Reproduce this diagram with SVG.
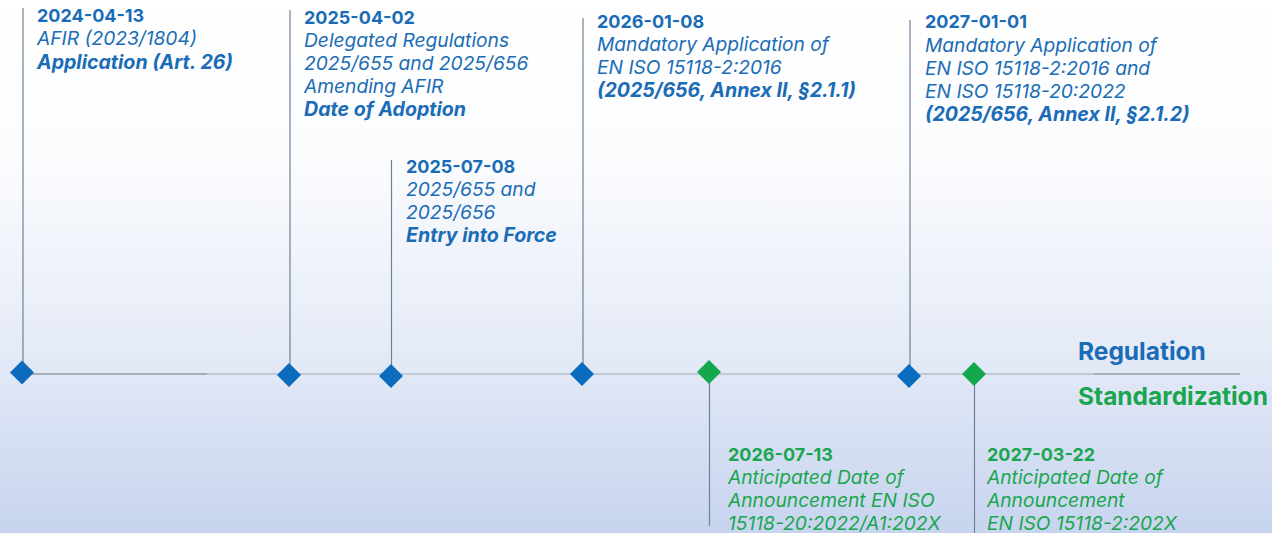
<svg xmlns="http://www.w3.org/2000/svg" width="1272" height="533" viewBox="0 0 1272 533">
<defs>
<linearGradient id="bg" x1="0" y1="0" x2="0" y2="1">
<stop offset="0" stop-color="#ffffff"/>
<stop offset="0.3" stop-color="#fbfcfe"/>
<stop offset="0.65" stop-color="#e5ebf7"/>
<stop offset="1" stop-color="#c7d4ef"/>
</linearGradient>
<path id="dm" d="M0,-12 L12,0 L0,12 L-12,0 Z"/>
</defs>
<style>
text{font-family:Inter,"Liberation Sans",sans-serif;font-size:18px}
.d{font-weight:bold}
.i{font-style:italic;font-size:19.2px}
.bi{font-style:italic;font-weight:bold;font-size:19.6px}
.blue{fill:#1a6cb6}
.green{fill:#1aa64e}
.stem{stroke:#6f8197;stroke-width:1.2;fill:none}
.bd{fill:#0b6bbd}
.gd{fill:#13a84b}
.lane{font-weight:bold;font-size:24.5px}
</style>
<rect width="1272" height="533" fill="url(#bg)"/>
<g id="connectors">
<line x1="22" y1="374" x2="1240" y2="374" stroke="#c2c8d3" stroke-width="2"/>
<line x1="22" y1="374" x2="207" y2="374" stroke="#a8acb4" stroke-width="2"/>
<line x1="1094" y1="374" x2="1240" y2="374" stroke="#a8acb4" stroke-width="2"/>
<line class="stem" x1="23" y1="8" x2="23" y2="372"/>
<line class="stem" x1="290" y1="10" x2="290" y2="375"/>
<line class="stem" x1="391.5" y1="160" x2="391.5" y2="376"/>
<line class="stem" x1="583" y1="18" x2="583" y2="374"/>
<line class="stem" x1="910" y1="20" x2="910" y2="376"/>
<line class="stem" x1="709.5" y1="372" x2="709.5" y2="526"/>
<line class="stem" x1="974.5" y1="374" x2="974.5" y2="533"/>
</g>
<g id="n1">
<use href="#dm" x="22" y="372.5" class="bd"/>
<text x="37" y="22" class="d blue">2024-04-13</text>
<text x="37" y="45" class="i blue">AFIR (2023/1804)</text>
<text x="37" y="69" class="bi blue">Application (Art. 26)</text>
</g>
<g id="n2">
<use href="#dm" x="289" y="375" class="bd"/>
<text x="304" y="24" class="d blue">2025-04-02</text>
<text x="304" y="47" class="i blue">Delegated Regulations</text>
<text x="304" y="70" class="i blue">2025/655 and 2025/656</text>
<text x="304" y="93" class="i blue">Amending AFIR</text>
<text x="304" y="116" class="bi blue">Date of Adoption</text>
</g>
<g id="n3">
<use href="#dm" x="391" y="376" class="bd"/>
<text x="406" y="173" class="d blue">2025-07-08</text>
<text x="406" y="196" class="i blue">2025/655 and</text>
<text x="406" y="219" class="i blue">2025/656</text>
<text x="406" y="242" class="bi blue">Entry into Force</text>
</g>
<g id="n4">
<use href="#dm" x="582" y="374" class="bd"/>
<text x="597" y="28" class="d blue">2026-01-08</text>
<text x="597" y="51" class="i blue">Mandatory Application of</text>
<text x="597" y="74" class="i blue">EN ISO 15118-2:2016</text>
<text x="597" y="97" class="bi blue">(2025/656, Annex II, §2.1.1)</text>
</g>
<g id="n5">
<use href="#dm" x="909" y="376" class="bd"/>
<text x="925" y="28" class="d blue">2027-01-01</text>
<text x="925" y="52" class="i blue">Mandatory Application of</text>
<text x="925" y="75" class="i blue">EN ISO 15118-2:2016 and</text>
<text x="925" y="98" class="i blue">EN ISO 15118-20:2022</text>
<text x="925" y="121" class="bi blue">(2025/656, Annex II, §2.1.2)</text>
</g>
<g id="n6">
<use href="#dm" x="709" y="372" class="gd"/>
<text x="728" y="461" class="d green">2026-07-13</text>
<text x="728" y="484" class="i green">Anticipated Date of</text>
<text x="728" y="507" class="i green">Announcement EN ISO</text>
<text x="728" y="530" class="i green">15118-20:2022/A1:202X</text>
</g>
<g id="n7">
<use href="#dm" x="974" y="374" class="gd"/>
<text x="987" y="461" class="d green">2027-03-22</text>
<text x="987" y="484" class="i green">Anticipated Date of</text>
<text x="987" y="507" class="i green">Announcement</text>
<text x="987" y="530" class="i green">EN ISO 15118-2:202X</text>
</g>
<g id="lanes">
<text x="1078" y="360" class="lane blue">Regulation</text>
<text x="1078" y="405" class="lane green">Standardization</text>
</g>
</svg>
